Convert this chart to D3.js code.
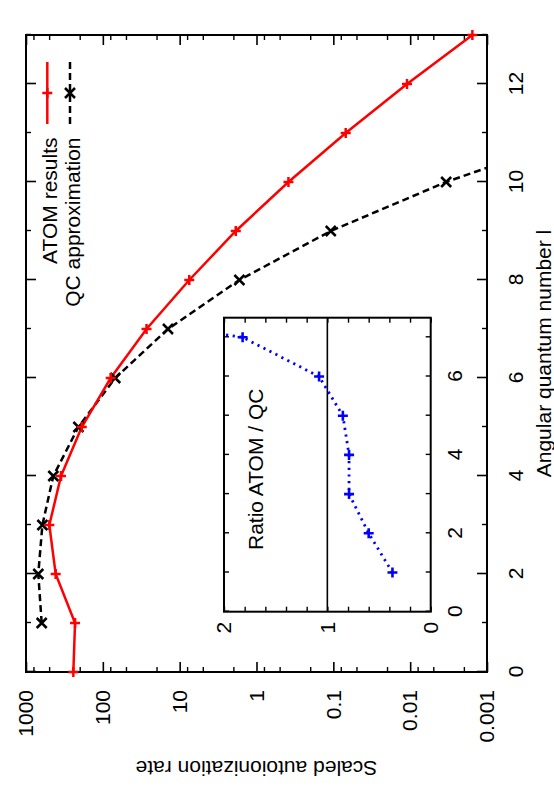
<!DOCTYPE html>
<html>
<head>
<meta charset="utf-8">
<script src="https://cdn.jsdelivr.net/npm/d3@7"></script>
<style>
  body { margin: 0; background: #fff; }
  text { font-family: "Liberation Sans", Arial, Helvetica, sans-serif; }
</style>
</head>
<body>
<svg id="chart" width="554" height="789"></svg>
<script>
// ATOM results (red) and QC approximation (black), per angular quantum number l
const lAtom = [0, 1, 2, 3, 4, 5, 6, 7, 8, 9, 10, 11, 12, 13];
const atomRate = [242, 230, 411, 497, 350, 188, 79, 27, 7.5, 1.86, 0.384, 0.069, 0.011, 0.00155];
const lQc = [1, 2, 3, 4, 5, 6, 7, 8, 9, 10, 11];
const qcRate = [625, 692, 612, 441, 208, 69, 14.2, 1.67, 0.108, 0.0034, 0.00005];

// inset: ratio ATOM / QC
const lRatio = [1, 2, 3, 4, 5, 6, 7, 8];
const ratio = [0.37, 0.60, 0.79, 0.79, 0.85, 1.08, 1.82, 4.4];

const rateTicks = [1000, 100, 10, 1, 0.1, 0.01, 0.001];
const rateTickLabels = ["1000", "100", "10", "1", "0.1", "0.01", "0.001"];
const lTicks = [0, 2, 4, 6, 8, 10, 12];
const lMinorTicks = [1, 3, 5, 7, 9, 11, 13];
const ratioTicks = [0, 1, 2];
const ratioMinorTicks = [0.2, 0.4, 0.6, 0.8, 1.2, 1.4, 1.6, 1.8];
const insetLTicks = [0, 2, 4, 6];
const insetLMinorTicks = [1, 3, 5, 7];

const FONT = 21;
const svg = d3.select("#chart");
svg.append("rect").attr("width", 554).attr("height", 789).attr("fill", "white");

// the plot is drawn upright, then turned 90 degrees anticlockwise
const W = 637, H = 461;
const g = svg.append("g").attr("transform", "translate(26,672) rotate(-90)");

const x = d3.scaleLinear().domain([0, 13]).range([0, W]);
const y = d3.scaleLog().domain([0.001, 1000]).range([H, 0]);

const minorRate = [];
[-3, -2, -1, 0, 1, 2].forEach(k => [2, 5, 8].forEach(m => minorRate.push(m * Math.pow(10, k))));

const styleAxis = (sel, w) => {
  sel.select(".domain").remove();
  sel.selectAll("line").attr("stroke-width", w);
  sel.attr("font-size", FONT);
};

// value axis (left in upright frame) + mirror
const fmtRate = d => rateTickLabels[rateTicks.indexOf(d)];
g.append("g").call(d3.axisLeft(y).tickValues(rateTicks).tickFormat(fmtRate).tickSize(-10).tickPadding(18)).call(styleAxis, 1.6);
g.append("g").call(d3.axisLeft(y).tickValues(minorRate).tickFormat("").tickSize(-5)).call(styleAxis, 1.4);
g.append("g").attr("transform", `translate(${W},0)`).call(d3.axisRight(y).tickValues(rateTicks).tickFormat("").tickSize(-10)).call(styleAxis, 1.6);
g.append("g").attr("transform", `translate(${W},0)`).call(d3.axisRight(y).tickValues(minorRate).tickFormat("").tickSize(-5)).call(styleAxis, 1.4);

// l axis + mirror
g.append("g").attr("transform", `translate(0,${H})`).call(d3.axisBottom(x).tickValues(lTicks).tickSize(-10).tickPadding(21)).call(styleAxis, 1.6);
g.append("g").attr("transform", `translate(0,${H})`).call(d3.axisBottom(x).tickValues(lMinorTicks).tickFormat("").tickSize(-5)).call(styleAxis, 1.4);
g.append("g").call(d3.axisTop(x).tickValues(lTicks).tickFormat("").tickSize(-10)).call(styleAxis, 1.6);
g.append("g").call(d3.axisTop(x).tickValues(lMinorTicks).tickFormat("").tickSize(-5)).call(styleAxis, 1.4);

g.append("rect").attr("width", W).attr("height", H)
  .attr("fill", "none").attr("stroke", "black").attr("stroke-width", 2);

// axis titles
g.append("text").attr("x", W / 2).attr("y", H + 64)
  .attr("text-anchor", "middle").attr("font-size", FONT)
  .text("Angular quantum number l");
g.append("text").attr("transform", `translate(-89,${H / 2}) rotate(-90)`)
  .attr("text-anchor", "middle").attr("font-size", FONT)
  .text("Scaled autoionization rate");

// series
g.append("clipPath").attr("id", "mainClip").append("rect").attr("width", W).attr("height", H);
const plot = g.append("g").attr("clip-path", "url(#mainClip)");
const line = d3.line().x(d => x(d[0])).y(d => y(d[1]));
const plus = s => `M${-s},0H${s}M0,${-s}V${s}`;
const cross = s => `M${-s},${-s}L${s},${s}M${-s},${s}L${s},${-s}`;

const atomPts = lAtom.map((l, i) => [l, atomRate[i]]);
const qcPts = lQc.map((l, i) => [l, qcRate[i]]);
const inRange = d => d[1] >= 0.001 && d[1] <= 1000;

plot.append("path").attr("d", line(qcPts)).attr("fill", "none")
  .attr("stroke", "black").attr("stroke-width", 2.5).attr("stroke-dasharray", "7,4");
plot.append("path").attr("d", line(atomPts)).attr("fill", "none")
  .attr("stroke", "#ff0000").attr("stroke-width", 2.5);

// point marks are not clipped at the frame, only dropped when off scale
g.selectAll(".qcm").data(qcPts.filter(inRange)).join("path")
  .attr("transform", d => `translate(${x(d[0])},${y(d[1])})`)
  .attr("d", cross(5)).attr("stroke", "black").attr("stroke-width", 2.5);
g.selectAll(".atm").data(atomPts.filter(inRange)).join("path")
  .attr("transform", d => `translate(${x(d[0])},${y(d[1])})`)
  .attr("d", plus(5)).attr("stroke", "#ff0000").attr("stroke-width", 2.5);

// legend
const legend = [
  { label: "ATOM results", color: "#ff0000", dash: null, mark: plus, v: 21.3 },
  { label: "QC approximation", color: "black", dash: "7,4", mark: cross, v: 44 }
];
legend.forEach(d => {
  g.append("text").attr("x", 534.5).attr("y", d.v + 2.3).attr("dy", "0.35em")
    .attr("text-anchor", "end").attr("font-size", FONT).text(d.label);
  g.append("line").attr("x1", 548).attr("x2", 610).attr("y1", d.v).attr("y2", d.v)
    .attr("stroke", d.color).attr("stroke-width", 2.5).attr("stroke-dasharray", d.dash);
  g.append("path").attr("transform", `translate(579,${d.v})`).attr("d", d.mark(5))
    .attr("stroke", d.color).attr("stroke-width", 2.5);
});

// inset
const ix = d3.scaleLinear().domain([0, 7.5]).range([60.3, 354.3]);
const iy = d3.scaleLinear().domain([0, 2]).range([404.7, 198]);
const inset = g.append("g");
inset.append("rect").attr("x", ix(0)).attr("y", iy(2))
  .attr("width", ix(7.5) - ix(0)).attr("height", iy(0) - iy(2)).attr("fill", "white");

inset.append("g").attr("transform", `translate(${ix(0)},0)`)
  .call(d3.axisLeft(iy).tickValues(ratioTicks).tickFormat(d3.format("d")).tickSize(-5).tickPadding(10)).call(styleAxis, 1.4);
inset.append("g").attr("transform", `translate(${ix(0)},0)`)
  .call(d3.axisLeft(iy).tickValues(ratioMinorTicks).tickFormat("").tickSize(-5)).call(styleAxis, 1.4);
inset.append("g").attr("transform", `translate(${ix(7.5)},0)`)
  .call(d3.axisRight(iy).tickValues(ratioTicks.concat(ratioMinorTicks)).tickFormat("").tickSize(-5)).call(styleAxis, 1.4);
inset.append("g").attr("transform", `translate(0,${iy(0)})`)
  .call(d3.axisBottom(ix).tickValues(insetLTicks).tickSize(-5).tickPadding(16)).call(styleAxis, 1.4);
inset.append("g").attr("transform", `translate(0,${iy(0)})`)
  .call(d3.axisBottom(ix).tickValues(insetLMinorTicks).tickFormat("").tickSize(-5)).call(styleAxis, 1.4);
inset.append("g").attr("transform", `translate(0,${iy(2)})`)
  .call(d3.axisTop(ix).tickValues(insetLTicks.concat(insetLMinorTicks)).tickFormat("").tickSize(-5)).call(styleAxis, 1.4);

inset.append("line").attr("x1", ix(0)).attr("x2", ix(7.5)).attr("y1", iy(1)).attr("y2", iy(1))
  .attr("stroke", "black").attr("stroke-width", 1.6);

inset.append("clipPath").attr("id", "insetClip").append("rect")
  .attr("x", ix(0)).attr("y", iy(2)).attr("width", ix(7.5) - ix(0)).attr("height", iy(0) - iy(2));
const ratioPts = lRatio.map((l, i) => [l, ratio[i]]);
const iline = d3.line().x(d => ix(d[0])).y(d => iy(d[1]));
const ip = inset.append("g").attr("clip-path", "url(#insetClip)");
ip.append("path").attr("d", iline(ratioPts)).attr("fill", "none")
  .attr("stroke", "#0000ff").attr("stroke-width", 2.8).attr("stroke-dasharray", "2.2,4.5");
ip.selectAll(".rm").data(ratioPts).join("path")
  .attr("transform", d => `translate(${ix(d[0])},${iy(d[1])})`)
  .attr("d", plus(5)).attr("stroke", "#0000ff").attr("stroke-width", 2.6);

inset.append("rect").attr("x", ix(0)).attr("y", iy(2))
  .attr("width", ix(7.5) - ix(0)).attr("height", iy(0) - iy(2))
  .attr("fill", "none").attr("stroke", "black").attr("stroke-width", 2);

inset.append("text").attr("x", 122).attr("y", 237)
  .attr("font-size", FONT).text("Ratio ATOM / QC");
</script>
</body>
</html>
